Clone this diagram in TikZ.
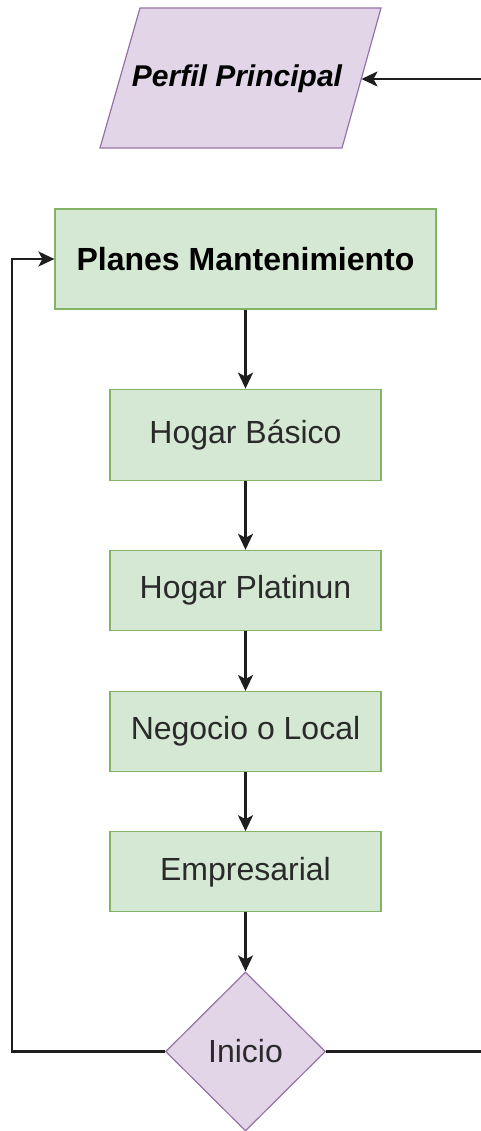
\documentclass[tikz,border=0pt]{standalone}
\usepackage{fontspec}
\setmainfont{Liberation Sans}
\usetikzlibrary{shapes.geometric}
\usetikzlibrary{arrows.meta,arrows}
\usetikzlibrary{positioning}
\definecolor{verdeF}{HTML}{D5E8D4}
\definecolor{verdeB}{HTML}{82B366}
\definecolor{lilaF}{HTML}{E1D5E7}
\definecolor{lilaB}{HTML}{9673A6}
\definecolor{texto}{HTML}{2A2A2A}
\definecolor{linea}{HTML}{1E1E1E}
\begin{document}
\begin{tikzpicture}[>={Stealth[length=16pt,width=15pt,inset=4pt]},x=1pt,y=1pt,line width=2.2pt,draw=linea,font=\fontsize{32}{38}\selectfont]
 \tikzstyle{perfil shape}=[draw=lilaB,fill=lilaF,line width=1.2pt,line join=miter]
 \tikzstyle{perfil node}=[inner sep=0,font=\fontsize{30}{36}\selectfont\bfseries\itshape]
 \tikzstyle{plan node}=[rectangle,draw=verdeB,fill=verdeF,line width=1.2pt,minimum width=381pt,minimum height=100pt,inner sep=0,font=\fontsize{32}{38}\selectfont\bfseries]
 \tikzset{
 	box node/.style={rectangle,draw=verdeB,fill=verdeF,line width=1.2pt,minimum width=271pt,minimum height=80pt,inner sep=0,text=texto},
 	inicio node/.style={diamond,draw=lilaB,fill=lilaF,line width=1.2pt,minimum width=160pt,minimum height=159pt,inner sep=0,text=texto}
 }
\useasboundingbox (0,0) rectangle (481,-1131);
\clip (0,0) rectangle (481,-1131);

       % parallelogram of the profile
       \draw[perfil shape] (140,-8) -- (381,-8) -- (342,-148) -- (100,-148) -- cycle;
       \node[perfil node] (perfil) at (237,-79) {Perfil Principal};
       \coordinate (perfilR) at (361.5,-79);

       \node[plan node] (plan) at (245.5,-259) {Planes Mantenimiento};
       \node[box node,minimum height=91pt] (basico) [below=79pt of plan] {Hogar Básico};
       \node[box node] (platinun) [below=69pt of basico] {Hogar Platinun};
       \node[box node] (negocio) [below=60pt of platinun] {Negocio o Local};
       \node[box node] (empresa) [below=59pt of negocio] {Empresarial};
       \node[inicio node] (ini) [below=59pt of empresa] {Inicio};

       \coordinate (izq) at (12,-259);
       \coordinate (der) at (520,0);

     \path[->]  (plan) edge (basico);
     \path[->]  (basico) edge (platinun);
     \path[->]  (platinun) edge (negocio);
     \path[->]  (negocio) edge (empresa);
     \path[->]  (empresa) edge (ini);

     \draw[->] (ini.west) -| (izq) -- (plan.west);
     \draw[->] (ini.east) -- (ini.east -| der) |- (perfilR);
 \end{tikzpicture}
\end{document}
